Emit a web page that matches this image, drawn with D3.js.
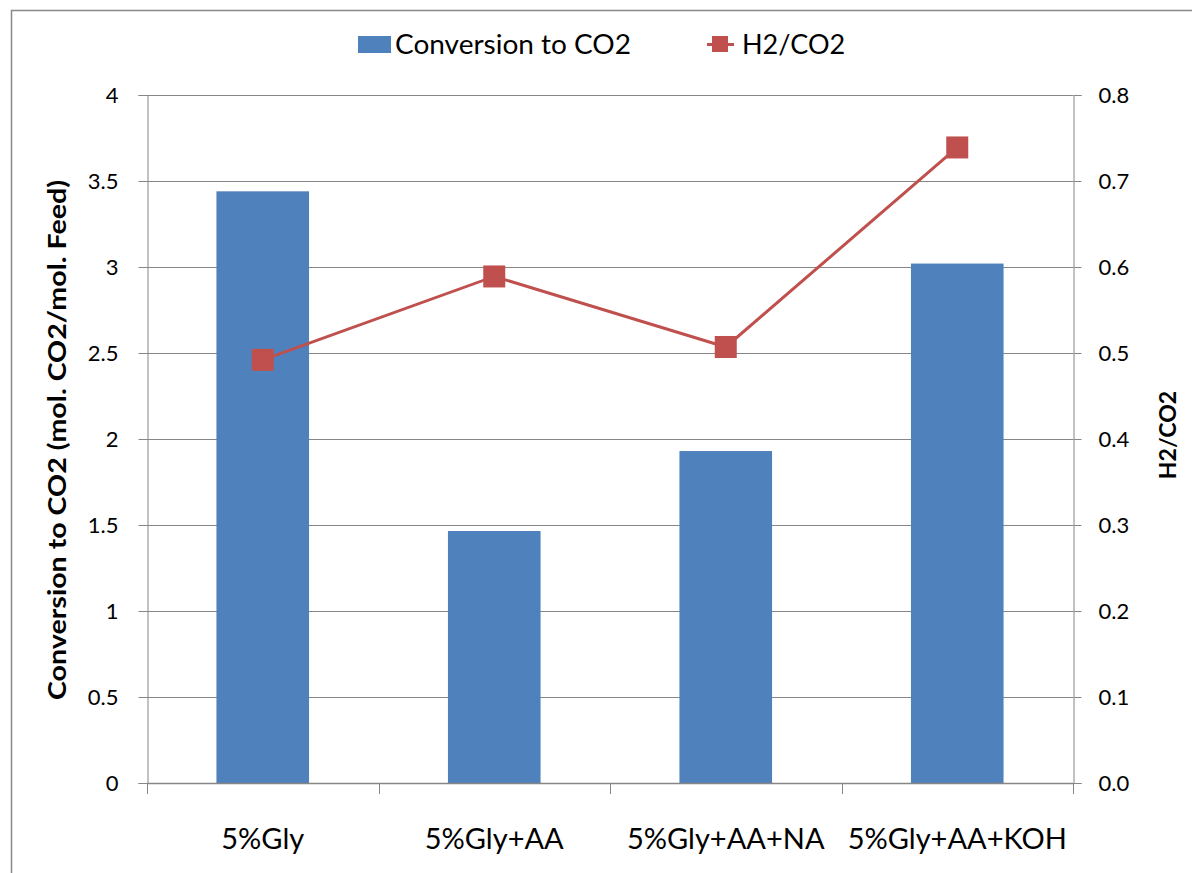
<!DOCTYPE html>
<html><head><meta charset="utf-8">
<script src="https://cdn.jsdelivr.net/npm/d3@7"></script>
<style>body{margin:0;background:#fff}svg{display:block}text{font-family:Lato,"Open Sans",sans-serif;fill:#000}</style>
</head><body><svg id="c" width="1192" height="873"></svg>
<script>
const categories = ["5%Gly","5%Gly+AA","5%Gly+AA+NA","5%Gly+AA+KOH"];
const conversion = [3.44, 1.465, 1.93, 3.02];
const h2co2 = [0.492, 0.589, 0.507, 0.739];
const leftTicks = [0,0.5,1,1.5,2,2.5,3,3.5,4];
const rightTicks = [0,0.1,0.2,0.3,0.4,0.5,0.6,0.7,0.8];
const seriesNames = ["Conversion to CO2","H2/CO2"];
const leftTitle = "Conversion to CO2 (mol. CO2/mol. Feed)";
const rightTitle = "H2/CO2";

const blue = "#4F81BD", red = "#C0504D", grid = "#868686";
const svg = d3.select("#c");
const L = 147, R = 1073, T = 95, B = 783;

svg.append("rect").attr("x",11.5).attr("y",10.5).attr("width",1300).attr("height",1000)
  .attr("fill","none").attr("stroke","#888").attr("stroke-width",1.5);

const x = d3.scaleBand().domain(categories).range([L,R]).paddingInner(0.6).paddingOuter(0.3);
const xb = d3.scaleBand().domain(categories).range([L,R]);
const yL = d3.scaleLinear().domain([0,4]).range([B,T]);
const yR = d3.scaleLinear().domain([0,0.8]).range([B,T]);

// gridlines
svg.append("g").selectAll("line").data(leftTicks.slice(1)).join("line")
  .attr("x1",L).attr("x2",R).attr("y1",d=>Math.round(yL(d))+0.5).attr("y2",d=>Math.round(yL(d))+0.5)
  .attr("stroke",grid).attr("stroke-width",1);

// left axis
const gL = svg.append("g").attr("transform",`translate(${L+0.5},0)`)
  .call(d3.axisLeft(yL).tickValues(leftTicks).tickSize(9).tickPadding(20).tickFormat(d3.format("")));
gL.select(".domain").attr("stroke",grid);
gL.selectAll(".tick line").attr("stroke",grid);
gL.selectAll("text").attr("font-size",22).attr("dy","0.35em");

// right axis
const gR = svg.append("g").attr("transform",`translate(${R+0.5},0)`)
  .call(d3.axisRight(yR).tickValues(rightTicks).tickSize(8).tickPadding(17).tickFormat(d3.format(".1f")));
gR.select(".domain").attr("stroke",grid);
gR.selectAll(".tick line").attr("stroke",grid);
gR.selectAll("text").attr("font-size",22).attr("dy","0.35em");

// bars
svg.append("g").selectAll("rect").data(categories).join("rect")
  .attr("x",d=>x(d)).attr("width",x.bandwidth())
  .attr("y",(d,i)=>yL(conversion[i])).attr("height",(d,i)=>B-yL(conversion[i]))
  .attr("fill",blue);

// x axis
svg.append("line").attr("x1",L).attr("x2",R).attr("y1",B+0.5).attr("y2",B+0.5).attr("stroke",grid).attr("stroke-width",1.5);
svg.append("g").selectAll("line").data([...categories.map(c=>xb(c)), R]).join("line")
  .attr("x1",d=>Math.round(d)+0.5).attr("x2",d=>Math.round(d)+0.5).attr("y1",B).attr("y2",B+11)
  .attr("stroke",grid);
svg.append("g").selectAll("text").data(categories).join("text")
  .attr("x",d=>xb(d)+xb.bandwidth()/2).attr("y",849).attr("text-anchor","middle")
  .attr("font-size",29).text(d=>d);

// line
const cx = d=>xb(d)+xb.bandwidth()/2;
svg.append("path").datum(categories)
  .attr("d",d3.line().x(cx).y((d,i)=>yR(h2co2[i])))
  .attr("fill","none").attr("stroke",red).attr("stroke-width",3);
svg.append("g").selectAll("rect").data(categories).join("rect")
  .attr("x",d=>cx(d)-11).attr("y",(d,i)=>yR(h2co2[i])-11).attr("width",22).attr("height",22)
  .attr("fill",red);

// titles
svg.append("text").attr("transform","translate(66,440) rotate(-90)").attr("text-anchor","middle")
  .attr("font-size",25).attr("font-weight","bold")
  .attr("textLength",520).attr("lengthAdjust","spacingAndGlyphs").text(leftTitle);
svg.append("text").attr("transform","translate(1176,435) rotate(-90)").attr("text-anchor","middle")
  .attr("font-size",23).attr("font-weight","bold").text(rightTitle);

// legend
const lg = svg.append("g");
lg.append("rect").attr("x",358).attr("y",36).attr("width",33).attr("height",17).attr("fill",blue);
lg.append("text").attr("x",395).attr("y",54).attr("font-size",27)
  .attr("textLength",236).attr("lengthAdjust","spacingAndGlyphs").text(seriesNames[0]);
lg.append("line").attr("x1",707).attr("x2",734).attr("y1",44.5).attr("y2",44.5).attr("stroke",red).attr("stroke-width",3);
lg.append("rect").attr("x",712).attr("y",36).attr("width",16).attr("height",16).attr("fill",red);
lg.append("text").attr("x",742).attr("y",54).attr("font-size",27).text(seriesNames[1]);
</script></body></html>
